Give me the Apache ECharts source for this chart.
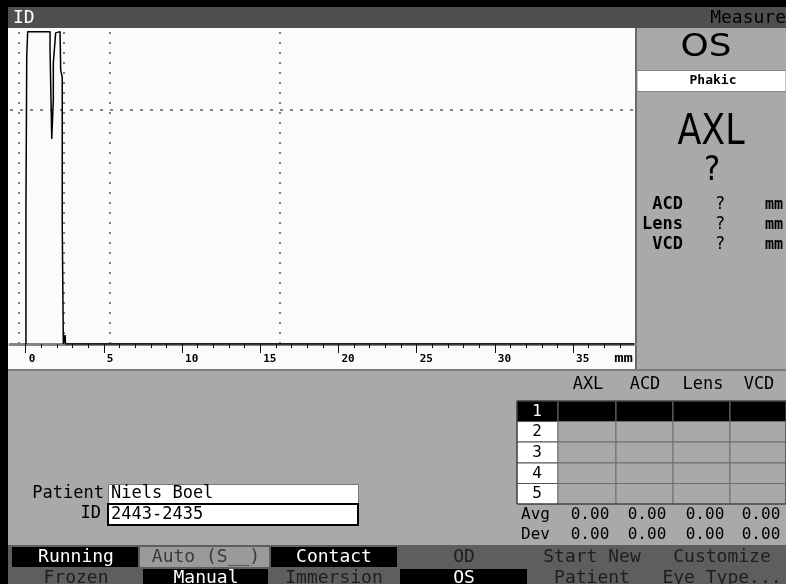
<!DOCTYPE html>
<html>
<head>
<meta charset="utf-8">
<title>A-scan</title>
<script src="https://cdn.jsdelivr.net/npm/echarts@6.0.0/dist/echarts.min.js"></script>
<style>
  html, body { margin: 0; padding: 0; background: #a9a9a9; }
  #chart { width: 786px; height: 584px; }
</style>
</head>
<body>
<div id="chart"></div>
<script>
// echo trace: depth (mm) and amplitude (%)
const traceX = [0.02, 0.02, 0.07, 0.07, 0.13, 0.13, 1.56, 1.56, 1.67, 1.77, 1.77, 1.92, 2.02, 2.20, 2.24, 2.34, 2.34, 2.41, 2.41, 2.52, 2.55, 38.9];
const traceY = [0, 42.8, 42.8, 91.7, 91.7, 99.8, 99.8, 93.9, 65.5, 78.0, 89.8, 99.4, 99.8, 99.8, 87.5, 85.3, 38.0, 38.0, 0, 2.9, 0, 0];

// gate markers (mm) and the amplitude threshold (%)
const gateX = [-0.42, 2.42, 5.35, 16.26];
const threshold = 75;

// axis ticks
const minorTicks = [0, 1, 2, 3, 4, 5, 6, 7, 8, 9, 10, 11, 12, 13, 14, 15, 16, 17, 18, 19, 20, 21, 22, 23, 24, 25, 26, 27, 28, 29, 30, 31, 32, 33, 34, 35, 36, 37, 38];
const majorTicks = [0, 5, 10, 15, 20, 25, 30, 35];

// side panel
const eyeSide = 'OS';
const lensType = 'Phakic';
const mainMeasure = 'AXL';
const mainValue = '?';
const measureNames = ['ACD', 'Lens', 'VCD'];
const measureValues = ['?', '?', '?'];

// results table
const tableCols = ['AXL', 'ACD', 'Lens', 'VCD'];
const tableRows = ['1', '2', '3', '4', '5'];
const avgValues = [0.00, 0.00, 0.00, 0.00];
const devValues = [0.00, 0.00, 0.00, 0.00];

// patient
const patientName = 'Niels Boel';
const patientId = '2443-2435';

// soft keys
const keysTop = ['Running', 'Auto (S__)', 'Contact', 'OD', 'Start New', 'Customize'];
const keysBottom = ['Frozen', 'Manual', 'Immersion', 'OS', 'Patient', 'Eye Type...'];
const activeTop = [true, false, true, false, false, false];
const activeBottom = [false, true, false, true, false, false];

const MONO = "'DejaVu Sans Mono', monospace";
const SANS = "'DejaVu Sans', sans-serif";

function rect(x, y, w, h, fill, stroke, lw) {
  return {
    type: 'rect', silent: true, z: 0,
    shape: { x: x, y: y, width: w, height: h },
    style: { fill: fill || 'none', stroke: stroke || null, lineWidth: lw || 0 }
  };
}
function text(x, y, str, font, fill, align, sx) {
  return {
    type: 'text', silent: true, z: 10, x: x, y: y, scaleX: sx || 1,
    style: { text: str, font: font, fill: fill, align: align || 'center', verticalAlign: 'middle' }
  };
}

const g = [];
// frame
g.push(rect(0, 0, 786, 584, '#a9a9a9'));
g.push(rect(0, 0, 786, 7, '#000'));
g.push(rect(0, 0, 8, 584, '#000'));
g.push(rect(8, 7, 778, 21, '#4f4f4f'));
g.push(text(13, 18, 'ID', '18px ' + MONO, '#fff', 'left'));
g.push(text(786, 18, 'Measure', '18px ' + MONO, '#000', 'right'));

// plot area
g.push(rect(8, 28, 627, 341, '#fbfbfb'));
g.push(rect(635, 28, 2, 341, '#6a6a6a'));
g.push(text(633, 359, 'mm', 'bold 12px ' + MONO, '#000', 'right', 1.3));
g.push(rect(8, 369, 778, 2, '#7a7a7a'));

// side panel
g.push(text(706, 48, eyeSide, '32px ' + SANS, '#000', 'center', 1.12));
g.push(rect(637, 70.5, 149, 21, '#fff', '#888', 1));
g.push(text(713, 81, lensType, 'bold 13px ' + MONO, '#000', 'center'));
g.push(text(711, 133, mainMeasure, '42px ' + SANS, '#000', 'center', 0.83));
g.push(text(712, 171, mainValue, '34px ' + SANS, '#000', 'center', 0.9));
const mRowY = [205, 225, 245];
measureNames.forEach(function (n, i) {
  g.push(text(683, mRowY[i], n, 'bold 17px ' + MONO, '#000', 'right'));
  g.push(text(720, mRowY[i], measureValues[i], '17px ' + MONO, '#000', 'center'));
  g.push(text(783, mRowY[i], 'mm', 'bold 15px ' + MONO, '#000', 'right'));
});

// results table
const colEdges = [517, 558, 616, 673, 730, 786];
const rowEdges = [401, 421.5, 442, 463, 483.5, 504];
const colCenters = [588, 645, 703, 759];
tableCols.forEach(function (c, i) {
  g.push(text(colCenters[i], 385, c, '17px ' + MONO, '#000', 'center'));
});
tableRows.forEach(function (r, i) {
  const y0 = rowEdges[i], h = rowEdges[i + 1] - rowEdges[i];
  const first = i === 0;
  g.push(rect(colEdges[0], y0, colEdges[1] - colEdges[0], h, first ? '#000' : '#fff', '#555', 1));
  for (let c = 1; c < colEdges.length - 1; c++) {
    g.push(rect(colEdges[c], y0, colEdges[c + 1] - colEdges[c], h, first ? '#000' : '#a9a9a9', '#6e6e6e', 1));
  }
  g.push(text(537, y0 + h / 2 + 0.5, r, '16px ' + MONO, first ? '#fff' : '#000', 'center'));
});
g.push(rect(colEdges[0], rowEdges[0], 786 - colEdges[0], rowEdges[5] - rowEdges[0], null, '#333', 1));
g.push(text(521, 515, 'Avg', '16px ' + MONO, '#000', 'left'));
g.push(text(521, 535, 'Dev', '16px ' + MONO, '#000', 'left'));
avgValues.forEach(function (v, i) {
  g.push(text(colCenters[i] + 2, 515, v.toFixed(2), '16px ' + MONO, '#000', 'center'));
  g.push(text(colCenters[i] + 2, 535, devValues[i].toFixed(2), '16px ' + MONO, '#000', 'center'));
});

// patient fields
g.push(text(104, 494, 'Patient', '17px ' + MONO, '#000', 'right'));
g.push(text(101, 514, 'ID', '17px ' + MONO, '#000', 'right'));
g.push(rect(108.5, 484.5, 250, 19, '#fff', '#777', 1));
g.push(rect(108, 504, 250, 21, '#fff', '#000', 2));
g.push(text(111, 494, patientName, '17px ' + MONO, '#000', 'left'));
g.push(text(111, 514.5, patientId, '17px ' + MONO, '#000', 'left'));

// soft keys
g.push(rect(8, 545, 778, 39, '#5e5e5e'));
const keyCenters = [76, 206, 334, 464, 592, 722];
const boxesTop = [[12, 138], [140, 269], [271, 397], [400, 527], [530, 655], [658, 786]];
const boxesBottom = [[12, 138], [143, 268], [271, 397], [400, 527], [530, 655], [658, 786]];
g.push(rect(140, 547, 129, 20, '#9a9a9a'));
keysTop.forEach(function (k, i) {
  const b = boxesTop[i];
  if (activeTop[i]) g.push(rect(b[0], 547, b[1] - b[0], 20, '#000'));
  g.push(text(keyCenters[i], 557, k, '18px ' + MONO, activeTop[i] ? '#fff' : (i === 1 ? '#3a3a3a' : '#1e1e1e'), 'center'));
});
keysBottom.forEach(function (k, i) {
  const b = boxesBottom[i];
  if (activeBottom[i]) g.push(rect(b[0], 569, b[1] - b[0], 15, '#000'));
  g.push(text(keyCenters[i], 578, k, '18px ' + MONO, activeBottom[i] ? '#fff' : '#1e1e1e', 'center'));
});

const chart = echarts.init(document.getElementById('chart'));
chart.setOption({
  backgroundColor: '#a9a9a9',
  animation: false,
  grid: { left: 10, top: 31, width: 625.6, height: 313 },
  xAxis: [
    {
      type: 'value', min: -1, max: 39, position: 'bottom', z: 5,
      axisLine: { show: true, onZero: false, lineStyle: { color: '#858585', width: 3 } },
      axisTick: { show: true, customValues: minorTicks, length: 4, lineStyle: { color: '#111', width: 1 } },
      axisLabel: { show: false },
      splitLine: { show: false }
    },
    {
      type: 'value', min: -1, max: 39, position: 'bottom', z: 5,
      axisLine: { show: false, onZero: false },
      axisTick: { show: true, customValues: majorTicks, length: 9, lineStyle: { color: '#111', width: 1 } },
      axisLabel: {
        show: true, customValues: majorTicks, align: 'left', margin: 10, padding: [0, 0, 0, 3],
        fontFamily: MONO, fontWeight: 'bold', fontSize: 11, color: '#000'
      },
      splitLine: { show: false }
    }
  ],
  yAxis: { type: 'value', min: 0, max: 100, show: false },
  series: [{
    type: 'line',
    xAxisIndex: 0,
    z: 6,
    showSymbol: false,
    data: traceX.map(function (x, i) { return [x, traceY[i]]; }),
    lineStyle: { color: '#000', width: 1.5 },
    markLine: {
      silent: true,
      symbol: ['none', 'none'],
      label: { show: false },
      animation: false,
      data: gateX.map(function (v) {
        return { xAxis: v, lineStyle: { type: [2, 8], color: '#5a5a5a', width: 1.5 } };
      }).concat([{ yAxis: threshold, lineStyle: { type: [3, 7], color: '#5a5a5a', width: 1.5 } }])
    }
  }],
  graphic: g
});
</script>
</body>
</html>
